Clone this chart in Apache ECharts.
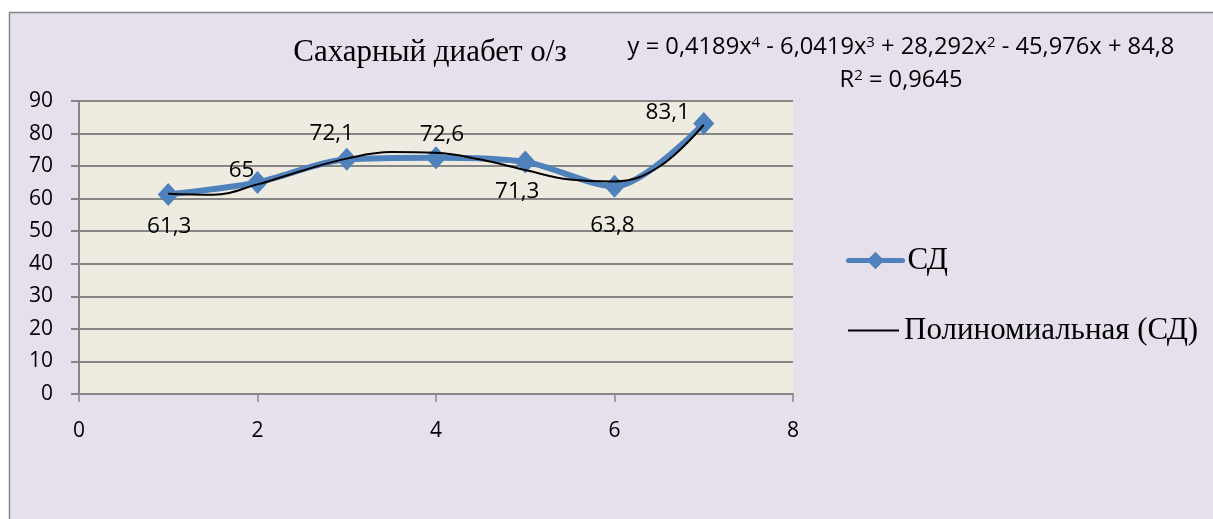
<!DOCTYPE html>
<html>
<head>
<meta charset="utf-8">
<script src="https://cdn.jsdelivr.net/npm/echarts@6/dist/echarts.min.js"></script>
<style>
  html, body { margin: 0; padding: 0; background: #ffffff; }
  #chart { width: 1213px; height: 519px; }
</style>
</head>
<body>
<div id="chart"></div>
<script>
// Observed points of the "СД" series
const xValues = [1, 2, 3, 4, 5, 6, 7];
const sdValues = [61.3, 65, 72.1, 72.6, 71.3, 63.8, 83.1];

// Polynomial trend curve sampled at half steps
const trendX = [1, 1.5, 2, 2.5, 3, 3.5, 4, 4.5, 5, 5.5, 6, 6.5, 7];
const trendY = [61.5, 61.2, 64.4, 68.6, 72.3, 74.3, 74.1, 72.0, 68.8, 65.9, 65.3, 69.8, 82.7];

const yTicks = [0, 10, 20, 30, 40, 50, 60, 70, 80, 90];
const xTicks = [0, 2, 4, 6, 8];

const titleText = 'Сахарный диабет о/з';
const seriesName = 'СД';
const trendName = 'Полиномиальная (СД)';

// Offsets of each value label relative to its point
const labelOffsets = [[1, 32], [-16, -12], [-15, -26], [6, -23], [-8, 30], [-2, 39], [-36, -11]];

const fmt = v => String(v).replace('.', ',');

const sdData = xValues.map((x, i) => ({
  value: [x, sdValues[i]],
  label: { offset: labelOffsets[i] }
}));
const trendData = trendX.map((x, i) => [x, trendY[i]]);

const chart = echarts.init(document.getElementById('chart'), null, { renderer: 'canvas' });

const sansFont = '"Open Sans", "Liberation Sans", sans-serif';
const serifFont = '"Liberation Serif", "DejaVu Serif", serif';
const supStyle = { fontSize: 15, fontFamily: sansFont, padding: [0, 0, 9, 0], verticalAlign: 'bottom' };

chart.setOption({
  animation: false,
  backgroundColor: '#ffffff',
  graphic: [
    {
      type: 'rect',
      z: -10,
      shape: { x: 9.5, y: 12.5, width: 1220, height: 520 },
      style: { fill: '#E5E0EC', stroke: '#868686', lineWidth: 1.5 }
    },
    {
      type: 'text',
      style: {
        x: 430, y: 53,
        text: titleText,
        font: '31px ' + serifFont,
        fill: '#000',
        align: 'center',
        verticalAlign: 'middle'
      }
    },
    {
      type: 'text',
      style: {
        x: 901, y: 47,
        text: 'y = 0,4189x{s|4} - 6,0419x{s|3} + 28,292x{s|2} - 45,976x + 84,8',
        font: '23.7px ' + sansFont,
        fill: '#000',
        align: 'center',
        verticalAlign: 'middle',
        rich: { s: supStyle }
      }
    },
    {
      type: 'text',
      style: {
        x: 901, y: 80,
        text: 'R{s|2} = 0,9645',
        font: '23.7px ' + sansFont,
        fill: '#000',
        align: 'center',
        verticalAlign: 'middle',
        rich: { s: supStyle }
      }
    }
  ],
  legend: [
    {
      left: 846,
      top: 245,
      padding: 0,
      itemWidth: 54,
      itemHeight: 22,
      selectedMode: false,
      lineStyle: { width: 5, cap: 'round' },
      textStyle: { fontFamily: serifFont, fontSize: 31, color: '#000' },
      data: [seriesName]
    },
    {
      left: 848,
      top: 315,
      padding: 0,
      itemWidth: 51,
      itemHeight: 2,
      icon: 'rect',
      selectedMode: false,
      textStyle: { fontFamily: serifFont, fontSize: 31, color: '#000' },
      data: [{ name: trendName, icon: 'rect' }]
    }
  ],
  grid: {
    left: 79, right: 420, top: 101, bottom: 125,
    show: true, backgroundColor: '#EEECE1', borderWidth: 0
  },
  xAxis: {
    type: 'value',
    min: xTicks[0], max: xTicks[xTicks.length - 1], interval: 2,
    axisLine: { show: true, lineStyle: { color: '#868686', width: 2 } },
    axisTick: { show: true, length: 8, lineStyle: { color: '#868686', width: 1.5 } },
    splitLine: { show: false },
    axisLabel: { margin: 27, fontFamily: sansFont, fontSize: 21, color: '#000' }
  },
  yAxis: {
    type: 'value',
    min: yTicks[0], max: yTicks[yTicks.length - 1], interval: 10,
    axisLine: { show: true, lineStyle: { color: '#868686', width: 2 } },
    axisTick: { show: true, length: 8, lineStyle: { color: '#868686', width: 2 } },
    splitLine: { show: true, lineStyle: { color: '#868686', width: 2 } },
    axisLabel: { margin: 26, fontFamily: sansFont, fontSize: 21, color: '#000' }
  },
  series: [
    {
      name: seriesName,
      type: 'line',
      data: sdData,
      smooth: 0.3,
      symbol: 'diamond',
      symbolSize: [21, 23],
      itemStyle: { color: '#4F81BD' },
      lineStyle: { color: '#4F81BD', width: 6 },
      label: {
        show: true,
        position: 'inside',
        fontFamily: sansFont,
        fontSize: 22.5,
        color: '#000',
        formatter: p => fmt(p.value[1])
      },
      emphasis: { disabled: true },
      z: 2
    },
    {
      name: trendName,
      type: 'line',
      data: trendData,
      smooth: 0.4,
      symbol: 'none',
      itemStyle: { color: '#000' },
      lineStyle: { color: '#000', width: 2 },
      emphasis: { disabled: true },
      z: 3
    }
  ]
});
</script>
</body>
</html>
